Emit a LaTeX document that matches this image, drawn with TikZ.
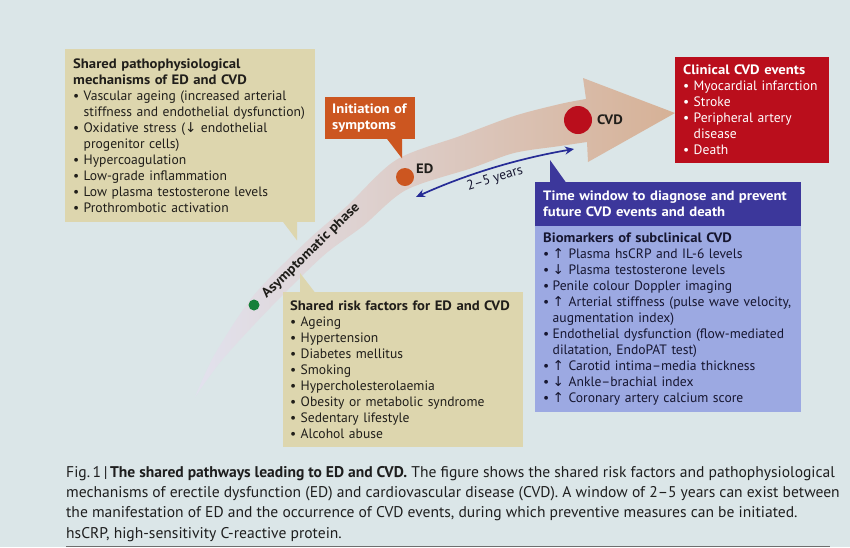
\documentclass[tikz,border=0pt]{standalone}
\usepackage{fontspec}
\setmainfont{PT Sans}
\newfontfamily\arrfont{DejaVu Sans}
\newfontfamily\tfont[FakeStretch=1.08]{PT Sans}
\newfontfamily\capfont[FakeStretch=1.005]{PT Sans}
\usetikzlibrary{arrows.meta,calc}
\definecolor{bg}{RGB}{219,230,232}
\definecolor{tanc}{RGB}{221,214,174}
\definecolor{orangec}{RGB}{204,86,32}
\definecolor{redc}{RGB}{186,14,28}
\definecolor{navyc}{RGB}{60,55,155}
\definecolor{lightbl}{RGB}{156,169,226}
\definecolor{greenc}{RGB}{22,128,58}
\definecolor{txt}{RGB}{32,30,26}
\definecolor{biotxt}{RGB}{22,22,48}
\definecolor{arrL}{RGB}{226,226,238}
\definecolor{arrM}{RGB}{226,198,190}
\definecolor{arrR}{RGB}{214,177,150}
\definecolor{dblc}{RGB}{38,44,150}
\definecolor{captxt}{RGB}{30,30,30}
\definecolor{rulec}{RGB}{110,110,110}
\newcommand\boxfont{\fontsize{13.6}{16}\selectfont}
\newcommand\tb[1]{{\tfont\bfseries #1}}
\newcommand\bul{\makebox[10.5pt][l]{\textbullet}}
\newcommand\bbul{\makebox[9.5pt][l]{\textbullet}}
\newcommand\cont{\hspace*{10.5pt}}
\newcommand\bcont{\hspace*{9.5pt}}
\newcommand\uparr{{\arrfont ↑}}
\newcommand\dnarr{{\arrfont ↓}}
\tikzset{
  box/.style={anchor=north west, inner xsep=8pt, inner ysep=0pt, align=left, font=\boxfont},
  dot/.style={circle, inner sep=0pt},
  dblarrow/.style={draw=dblc, line width=1.7pt, {Stealth[length=9pt,width=8pt]}-{Stealth[length=9pt,width=8pt]}},
}
\begin{document}
\begin{tikzpicture}[x=1pt,y=-1pt]
\useasboundingbox (0,0) rectangle (850,547);
\fill[bg] (0,0) rectangle (850,547);

% curved arrow band
\shade[left color=arrL, middle color=arrM, right color=arrR]
  plot[smooth] coordinates {(195,397) (215,354) (254,295) (307,241) (347,206) (396,160) (460,136) (514,116) (560,104) (586,99)}
  -- (583,78) -- (675,113) -- (588,162)
  -- plot[smooth] coordinates {(587,142) (560,146) (514,153) (472,168) (406,190) (363,226) (323,256) (270,308) (222,360) (195,397)}
  -- cycle;

% dots and labels
\node[dot, fill=greenc, minimum size=11pt] (asy) at (254,305) {};
\node[dot, fill=orangec, minimum size=18pt] (ed) at (405,177) {};
\node[dot, fill=redc, minimum size=28pt] (cvd) at (578,120) {};
\node[anchor=west, inner sep=0pt, font=\fontsize{13.6}{15}\selectfont, text=txt] (edl) at (416,169) {\tb{ED}};
\node[anchor=west, inner sep=0pt, font=\fontsize{13.6}{15}\selectfont, text=txt] (cvdl) at (597,120) {\tb{CVD}};
\node[rotate=44, inner sep=0pt, font=\fontsize{13.6}{15}\selectfont, text=txt] (phase) at (311,251) {\tb{Asymptomatic phase}};

% time window double arrow
\coordinate (yl) at (416,197);
\coordinate (yr) at (574,149);
\draw[dblarrow] (yl) .. controls (469,173) and (521,158) .. (yr);
\node[rotate=17, inner sep=0pt, font=\fontsize{13.6}{15}\selectfont, text=biotxt] (yrs) at (495,179) {2–5 years};

% shared mechanisms box
\node[box, fill=tanc, text=txt, text width=234pt, minimum height=173pt] (pm) at (65,49) {%
\tb{Shared pathophysiological}\\
\tb{mechanisms of ED and CVD}\\
\bul Vascular ageing (increased arterial\\
\cont stiffness and endothelial dysfunction)\\
\bul Oxidative stress (\dnarr\ endothelial\\
\cont progenitor cells)\\
\bul Hypercoagulation\\
\bul Low-grade inflammation\\
\bul Low plasma testosterone levels\\
\bul Prothrombotic activation};
\fill[tanc] ($(pm.south west)+(218,-0.5)$) -- ($(pm.south west)+(232,18)$) -- ($(pm.south west)+(232,-0.5)$) -- cycle;

% initiation box
\node[box, inner xsep=7pt, fill=orangec, text=white, text width=76pt, minimum height=42pt] (init) at (325,97) {%
\tb{Initiation of}\\
\tb{symptoms}};
\fill[orangec] ($(init.south west)+(62,-0.5)$) -- ($(init.south west)+(77,19)$) -- ($(init.south west)+(77,-0.5)$) -- cycle;

% clinical events box
\node[box, fill=redc, text=white, text width=138pt, minimum height=106pt] (clin) at (675,57) {%
\tb{Clinical CVD events}\\
\bul Myocardial infarction\\
\bul Stroke\\
\bul Peripheral artery\\
\cont disease\\
\bul Death};

% risk factors box
\node[box, inner xsep=7pt, fill=tanc, text=txt, text width=226pt, minimum height=155pt] (risk) at (283,292) {%
\tb{Shared risk factors for ED and CVD}\\
\bul Ageing\\
\bul Hypertension\\
\bul Diabetes mellitus\\
\bul Smoking\\
\bul Hypercholesterolaemia\\
\bul Obesity or metabolic syndrome\\
\bul Sedentary lifestyle\\
\bul Alcohol abuse};
\fill[tanc] ($(risk.north west)+(17,0.5)$) -- ($(risk.north west)+(17,-19)$) -- ($(risk.north west)+(32,0.5)$) -- cycle;

% time window header and biomarkers
\node[box, fill=navyc, text=white, text width=250pt, minimum height=44pt] (tw) at (535,182) {%
\tb{Time window to diagnose and prevent}\\
\tb{future CVD events and death}};
\fill[navyc] ($(tw.north west)+(15,0.5)$) -- ($(tw.north west)+(15,-22)$) -- ($(tw.north west)+(31,0.5)$) -- cycle;
\node[box, fill=lightbl, text=biotxt, text width=250pt, minimum height=186pt] (bio) at (535,226) {%
\tb{Biomarkers of subclinical CVD}\\
\bbul\uparr\ Plasma hsCRP and IL-6 levels\\
\bbul\dnarr\ Plasma testosterone levels\\
\bbul Penile colour Doppler imaging\\
\bbul\uparr\ Arterial stiffness (pulse wave velocity,\\
\bcont augmentation index)\\
\bbul Endothelial dysfunction (flow-mediated\\
\bcont dilatation, EndoPAT test)\\
\bbul\uparr\ Carotid intima–media thickness\\
\bbul\dnarr\ Ankle–brachial index\\
\bbul\uparr\ Coronary artery calcium score};

% caption
\node[anchor=north west, inner sep=0pt, align=left, text=captxt, font=\capfont\fontsize{15.5}{20.3}\selectfont] (cap) at (66,466) {%
Fig.\,1\,|\,\textbf{The shared pathways leading to ED and CVD.} The figure shows the shared risk factors and pathophysiological\\
mechanisms of erectile dysfunction (ED) and cardiovascular disease (CVD). A window of 2–5 years can exist between\\
the manifestation of ED and the occurrence of CVD events, during which preventive measures can be initiated.\\
hsCRP, high-sensitivity C-reactive protein.};
\coordinate (rl) at (66,546);
\coordinate (rr) at (830,546);
\draw[rulec, line width=1pt] (rl) -- (rr);
\end{tikzpicture}
\end{document}
